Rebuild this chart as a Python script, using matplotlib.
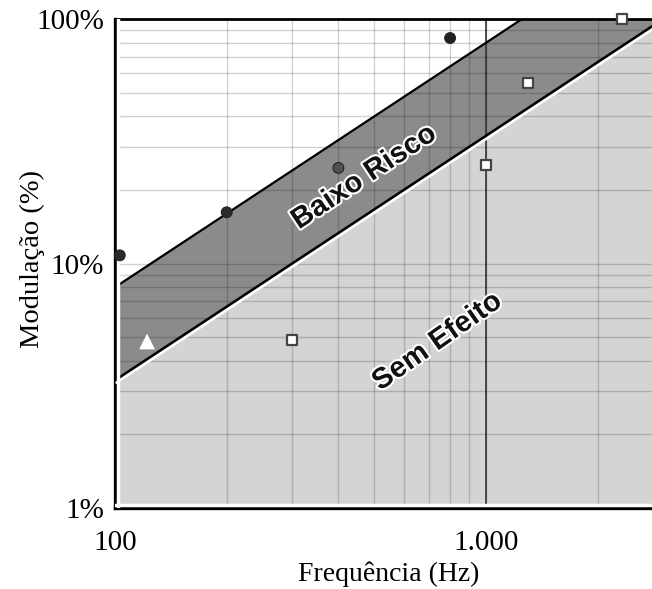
import matplotlib
matplotlib.use('Agg')
from matplotlib import pyplot as plt
from matplotlib import patheffects as pe
from matplotlib.ticker import FixedLocator, NullFormatter

# limites das regioes (reta em escala log-log, dois pontos cada)
baixo_risco_f = [100, 1250]
baixo_risco_mod = [8, 100]
sem_efeito_f = [100, 3000]
sem_efeito_mod = [3.33, 100]

# medicoes
circ_f = [103, 200, 400, 800]
circ_mod = [10.8, 16.2, 24.6, 83.6]
circ_cor = ['#2b2b2b', '#2b2b2b', '#505050', '#222222']
quad_f = [300, 1000, 1300, 2330]
quad_mod = [4.85, 25.3, 55, 100]
tri_f = [122]
tri_mod = [4.8]

x_ticks = [100, 1000]
x_labels = ['100', '1.000']
y_ticks = [1, 10, 100]
y_labels = ['1%', '10%', '100%']

plt.rcParams['font.family'] = ['Liberation Serif', 'DejaVu Serif']

fig = plt.figure(figsize=(6.52, 5.89), dpi=100)
ax = fig.add_axes([0.1764, 0.1375, 0.8406, 0.8302])
ax.set_xscale('log')
ax.set_yscale('log')
ax.set_xlim(100, 3000)
ax.set_ylim(1, 100)

# regiao "sem efeito" (cinza claro)
xmax = sem_efeito_f[-1]
ax.fill([sem_efeito_f[0]] + sem_efeito_f + [xmax],
        [1] + sem_efeito_mod + [1],
        color='#d4d4d4', lw=0, zorder=1)
# faixa de baixo risco (cinza escuro)
ax.fill(sem_efeito_f + baixo_risco_f[::-1],
        sem_efeito_mod + baixo_risco_mod[::-1],
        color='#8b8b8b', lw=0, zorder=1)

# grade
ax.grid(which='both', color='black', alpha=0.18, lw=1.0, zorder=2)
ax.set_axisbelow(False)
ax.axvline(1000, color='#3a3a3a', lw=1.2, zorder=2)

# linhas de limite
ax.plot(baixo_risco_f, baixo_risco_mod, color='black', lw=1.6, zorder=3)
ax.plot(sem_efeito_f, sem_efeito_mod, color='black', lw=1.8, zorder=3,
        path_effects=[pe.SimpleLineShadow(offset=(1.2, -1.6), shadow_color='white', alpha=1.0),
                      pe.Normal()])

# faixa branca interna junto as bordas
ax.plot([0.005, 0.005], [0, 1], transform=ax.transAxes, color='white', lw=2.5, zorder=3)
ax.plot([0, 1], [0.006, 0.006], transform=ax.transAxes, color='white', lw=2.5, zorder=3)

# marcadores
ax.scatter(circ_f, circ_mod, s=60, c=circ_cor, edgecolors='#222222', linewidths=0.8,
           zorder=5, clip_on=False)
ax.scatter(quad_f, quad_mod, s=55, marker='s', facecolors='white', edgecolors='#444444',
           linewidths=1.6, zorder=5, clip_on=False)
ax.scatter(tri_f, tri_mod, s=130, marker='^', facecolors='white', edgecolors='none',
           zorder=5)

# rotulos das regioes
halo = [pe.withStroke(linewidth=3, foreground='white')]
ax.text(469, 22.6, 'Baixo Risco', rotation=33.5, ha='center', va='center',
        fontsize=21, fontweight='bold', family=['Liberation Sans', 'DejaVu Sans'],
        color='#111111', path_effects=halo, zorder=6)
ax.text(738, 4.8, 'Sem Efeito', rotation=35, ha='center', va='center',
        fontsize=21, fontweight='bold', family=['Liberation Sans', 'DejaVu Sans'],
        color='#111111', path_effects=halo, zorder=6)

# eixos
ax.xaxis.set_major_locator(FixedLocator(x_ticks))
ax.set_xticklabels(x_labels)
ax.xaxis.set_minor_formatter(NullFormatter())
ax.yaxis.set_major_locator(FixedLocator(y_ticks))
ax.set_yticklabels(y_labels)
ax.yaxis.set_minor_formatter(NullFormatter())
ax.tick_params(which='both', length=0)
ax.tick_params(axis='x', labelsize=21, pad=16)
ax.tick_params(axis='y', labelsize=21, pad=8)

for s in ax.spines.values():
    s.set_linewidth(2.4)
    s.set_color('black')
ax.spines['top'].set_linewidth(2.0)

ax.set_xlabel('Frequência (Hz)', fontsize=20, labelpad=4)
ax.set_ylabel('Modulação (%)', fontsize=20.5)
ax.yaxis.set_label_coords(-0.128, 0.51)

fig.savefig('out.png', dpi=100)
